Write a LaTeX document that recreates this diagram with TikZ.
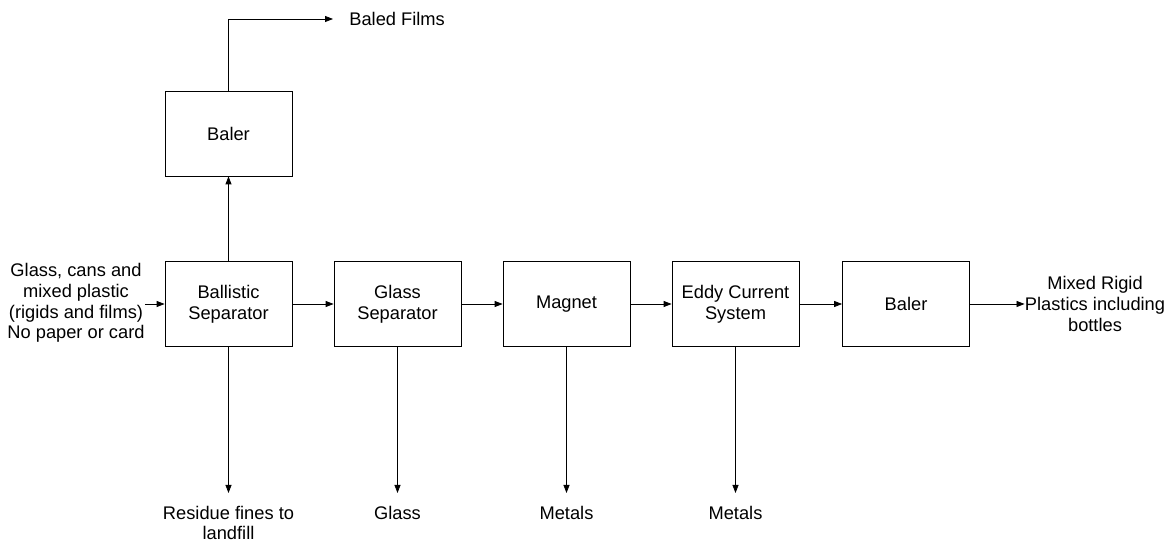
\documentclass[tikz,border=0pt]{standalone}
\usepackage{fontspec}
\setmainfont{Liberation Sans}
\usetikzlibrary{arrows.meta}

\begin{document}
\begin{tikzpicture}[x=0.2mm, y=-0.2mm,
        font=\fontsize{10.4}{11.7}\selectfont,
        unit/.style={draw, line width=0.45pt, minimum width=25.4mm, minimum height=17mm, inner sep=0pt, align=center},
        feed/.style={inner sep=0pt, align=center},
        product/.style={inner xsep=3.2mm, inner ysep=2.5mm, align=center},
        flow/.style={line width=0.45pt, -{Triangle[length=1.6mm,width=1.2mm]}}]
            \useasboundingbox (0,0) rectangle (1175,544);

            % main line of units
            \foreach \name/\x/\txt in {ballistic/228.5/{Ballistic\\Separator}, glasssep/397.5/{Glass\\Separator}, magnet/566.5/Magnet, eddy/735.5/{Eddy Current\\System}, baler/906/Baler}
                {
                    \node (\name) at (\x, 304)[unit]{\txt};
                }
            \node (filmbaler) at (228.5, 133.5)[unit]{Baler};

            % feed and products
            \node (feed) at (76, 303)[feed]{Glass, cans and\\mixed plastic\\(rigids and films)\\No paper or card};
            \node (rigids) at (1095, 304)[feed]{Mixed Rigid\\Plastics including\\bottles};
            \node (films) at (333, 19)[product, anchor=west]{Baled Films};
            \node (residue) at (228.5, 493)[product, anchor=north]{Residue fines to\\landfill};
            \node (glass) at (397.5, 493)[product, anchor=north]{Glass};
            \node (metals1) at (566.5, 493)[product, anchor=north]{Metals};
            \node (metals2) at (735.5, 493)[product, anchor=north]{Metals};

            \draw[flow] (feed.east |- ballistic.west) -- (ballistic.west);
            \draw[flow] (ballistic) -- (glasssep);
            \draw[flow] (glasssep) -- (magnet);
            \draw[flow] (magnet) -- (eddy);
            \draw[flow] (eddy) -- (baler);
            \draw[flow] (baler.east) -- (rigids.west);
            \draw[flow] (ballistic) -- (filmbaler);
            \draw[flow] (filmbaler.north) |- (films.west);
            \draw[flow] (ballistic.south) -- (residue.north);
            \draw[flow] (glasssep.south) -- (glass.north);
            \draw[flow] (magnet.south) -- (metals1.north);
            \draw[flow] (eddy.south) -- (metals2.north);
        \end{tikzpicture}
\end{document}
